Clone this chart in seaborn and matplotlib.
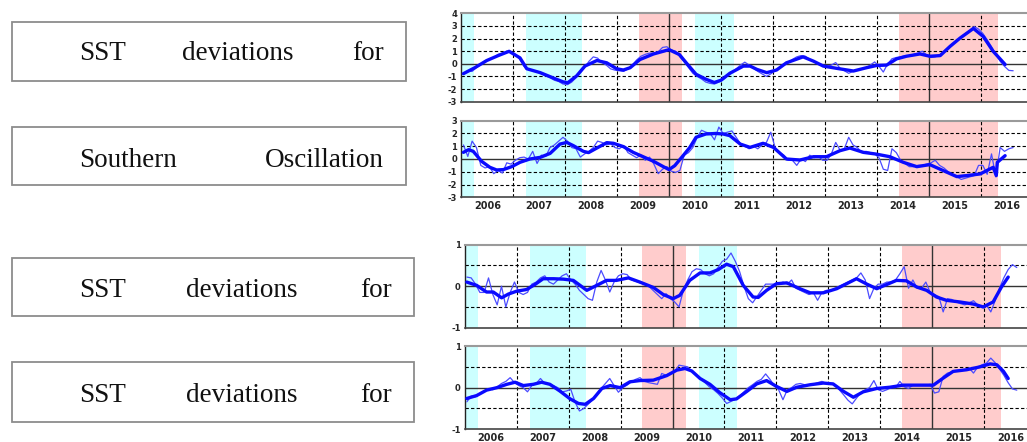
import numpy as np
import seaborn as sns
import matplotlib.pyplot as plt
from matplotlib.patches import Rectangle

# ---- data ----
# monthly values, Jan 2006 .. Aug 2016
sst_top_monthly = [
    -0.8, -0.55, -0.6, -0.3, -0.05, 0.25, 0.35, 0.5, 0.75, 0.85, 1.0, 0.9,
    0.75, 0.35, -0.2, -0.45, -0.55, -0.6, -0.8, -0.95, -1.1, -1.3, -1.4, -1.6,
    -1.65, -1.45, -1.1, -0.7, -0.3, 0.2, 0.55, 0.45, 0.1, -0.1, -0.4, -0.5,
    -0.55, -0.6, -0.4, -0.1, 0.3, 0.6, 0.75, 0.85, 0.85, 0.95, 1.3, 1.35,
    1.1, 1.0, 0.55, 0.15, -0.3, -0.75, -1.0, -1.2, -1.45, -1.55, -1.6, -1.45,
    -1.25, -0.95, -0.7, -0.4, -0.1, 0.13, -0.1, -0.35, -0.6, -0.8, -1.0, -0.8,
    -0.55, -0.35, -0.1, 0.1, 0.35, 0.55, 0.65, 0.6, 0.35, 0.2, 0.05, -0.1,
    -0.2, -0.1, 0.1, -0.35, -0.55, -0.75, -0.6, -0.5, -0.4, -0.3, -0.1, 0.15,
    -0.2, -0.65, 0.0, 0.4, 0.5, 0.55, 0.65, 0.6, 0.75, 0.85, 1.0, 0.7,
    0.5, 0.55, 0.7, 1.0, 1.3, 1.6, 1.85, 2.1, 2.4, 2.65, 2.95, 2.75,
    2.4, 1.9, 1.35, 0.75, 0.2, -0.2, -0.52, -0.55,
]
sst_top_smooth = [
    (2006.04, -0.78), (2006.26, -0.31), (2006.49, 0.26), (2006.71, 0.65), (2006.92, 0.99),
    (2007.13, 0.47), (2007.26, -0.39), (2007.52, -0.70), (2007.77, -1.12), (2007.96, -1.43),
    (2008.05, -1.5), (2008.22, -0.96), (2008.38, -0.18), (2008.61, 0.26), (2008.8, 0.08),
    (2008.99, -0.39), (2009.12, -0.49), (2009.25, -0.31), (2009.44, 0.34), (2009.70, 0.78),
    (2010.0, 1.12), (2010.2, 0.73), (2010.33, 0.08), (2010.52, -0.83), (2010.71, -1.22),
    (2010.87, -1.48), (2011.0, -1.3), (2011.17, -0.75), (2011.43, -0.18), (2011.56, -0.18),
    (2011.69, -0.44), (2011.88, -0.70), (2012.07, -0.49), (2012.26, 0.08), (2012.58, 0.55),
    (2012.78, 0.21), (2012.97, -0.18), (2013.23, -0.36), (2013.55, -0.57), (2013.8, -0.31),
    (2014.0, -0.13), (2014.19, -0.1), (2014.38, 0.39), (2014.57, 0.6), (2014.83, 0.78),
    (2015.02, 0.6), (2015.22, 0.65), (2015.41, 1.38), (2015.6, 2.03), (2015.86, 2.8),
    (2016.05, 2.16), (2016.24, 0.99), (2016.47, -0.05),
]

soi_monthly = [
    1.1, 0.2, 1.4, 0.9, -0.5, -0.7, -0.6, -1.15, -0.9, -1.1, -0.3, -0.4,
    -0.1, 0.1, 0.15, 0.0, 0.6, -0.35, 0.3, 0.2, 0.9, 1.1, 1.4, 1.7,
    1.4, 0.9, 0.8, 0.15, 0.4, 0.6, 0.9, 1.4, 1.3, 1.1, 1.2, 0.9,
    0.8, 1.05, 0.5, 0.3, 0.1, 0.3, -0.1, 0.15, -0.4, -1.15, -0.8, -0.6,
    -0.95, -1.05, -0.9, 0.3, 0.5, 0.9, 1.7, 2.25, 2.1, 2.0, 1.5, 2.5,
    2.0, 2.1, 2.2, 1.7, 1.2, 1.0, 0.8, 1.0, 0.8, 1.1, 1.3, 2.1,
    0.9, 0.5, 0.3, -0.1, -0.1, -0.5, 0.0, -0.2, 0.3, 0.1, 0.2, -0.1,
    -0.1, 0.4, 1.3, 0.7, 0.8, 1.7, 1.1, 0.9, 0.5, 0.6, 0.5, 0.4,
    0.1, -0.8, -0.9, 0.8, 0.5, -0.1, -0.35, -0.6, -0.6, -0.5, -0.5, -0.4,
    -0.3, -0.1, -0.5, -0.7, -1.0, -1.2, -1.4, -1.6, -1.5, -1.4, -1.3, -0.5,
    -0.5, -1.2, 0.4, -1.4, 0.9, 0.6, 0.8, 0.9,
]
soi_smooth = [
    (2006.04, 0.52), (2006.14, 0.73), (2006.23, 0.6), (2006.39, -0.18), (2006.55, -0.65),
    (2006.68, -0.86), (2006.81, -0.83), (2006.97, -0.6), (2007.13, -0.26), (2007.32, 0.0),
    (2007.52, 0.13), (2007.71, 0.44), (2007.9, 1.17), (2008.03, 1.3), (2008.16, 1.04),
    (2008.35, 0.6), (2008.45, 0.5), (2008.61, 0.86), (2008.8, 1.28), (2008.93, 1.23),
    (2009.12, 0.97), (2009.31, 0.52), (2009.5, 0.18), (2009.7, -0.18), (2009.89, -0.6),
    (2010.0, -0.83), (2010.11, -0.52), (2010.27, 0.26), (2010.4, 0.91), (2010.52, 1.7),
    (2010.71, 1.96), (2010.9, 2.0), (2011.04, 1.96), (2011.17, 1.83), (2011.37, 1.17),
    (2011.56, 0.91), (2011.81, 1.23), (2012.01, 0.91), (2012.26, 0.0), (2012.52, -0.08),
    (2012.78, 0.18), (2013.03, 0.18), (2013.29, 0.65), (2013.48, 0.86), (2013.74, 0.52),
    (2013.98, 0.39), (2014.25, 0.18), (2014.51, -0.26), (2014.77, -0.6), (2015.02, -0.44),
    (2015.28, -0.91), (2015.54, -1.38), (2015.73, -1.3), (2015.99, -1.17), (2016.12, -0.9),
    (2016.24, -0.65), (2016.3, -1.3), (2016.32, -0.26), (2016.47, 0.26),
]

sst_mid_monthly = [
    0.22, 0.2, 0.05, -0.15, -0.15, 0.2, -0.2, -0.45, 0.0, -0.5, -0.15, 0.1,
    -0.15, -0.2, -0.15, 0.05, 0.1, 0.2, 0.25, 0.1, 0.05, 0.15, 0.25, 0.3,
    0.15, 0.05, -0.1, -0.2, -0.3, -0.34, 0.1, 0.38, 0.15, -0.14, 0.1, 0.25,
    0.3, 0.28, 0.15, 0.12, 0.08, 0.05, 0.0, -0.1, -0.2, -0.3, -0.18, -0.3,
    -0.38, -0.5, -0.1, 0.15, 0.35, 0.42, 0.4, 0.3, 0.25, 0.3, 0.45, 0.6,
    0.65, 0.8, 0.6, 0.35, 0.0, -0.3, -0.4, -0.25, -0.1, 0.05, 0.05, 0.05,
    0.05, 0.1, 0.05, 0.15, -0.05, -0.1, -0.15, -0.2, -0.15, -0.34, -0.15, -0.1,
    -0.1, -0.05, 0.0, 0.05, 0.1, 0.15, 0.2, 0.32, 0.15, -0.3, -0.05, 0.05,
    0.05, 0.1, 0.1, 0.15, 0.3, 0.47, -0.05, 0.15, -0.05, -0.05, 0.1, -0.15,
    -0.2, -0.25, -0.62, -0.3, -0.32, -0.38, -0.42, -0.45, -0.4, -0.35, -0.45, -0.5,
    -0.45, -0.62, -0.35, -0.05, 0.2, 0.4, 0.52, 0.45,
]
sst_mid_smooth = [
    (2006.04, 0.10), (2006.23, 0.02), (2006.42, -0.14), (2006.55, -0.14), (2006.71, -0.28),
    (2006.84, -0.19), (2007.0, -0.12), (2007.19, -0.08), (2007.35, 0.04), (2007.51, 0.18),
    (2007.71, 0.18), (2007.9, 0.17), (2008.09, 0.14), (2008.22, 0.02), (2008.35, -0.1),
    (2008.51, 0.0), (2008.73, 0.14), (2008.92, 0.14), (2009.15, 0.2), (2009.37, 0.1),
    (2009.63, -0.03), (2009.82, -0.2), (2010.01, -0.3), (2010.14, -0.22), (2010.33, 0.14),
    (2010.53, 0.32), (2010.72, 0.32), (2010.88, 0.4), (2011.04, 0.53), (2011.17, 0.47),
    (2011.36, 0.02), (2011.55, -0.26), (2011.65, -0.27), (2011.81, -0.1), (2012.0, 0.06),
    (2012.2, 0.08), (2012.45, -0.06), (2012.65, -0.16), (2012.9, -0.16), (2013.16, -0.06),
    (2013.35, 0.06), (2013.54, 0.18), (2013.74, 0.05), (2013.93, -0.06), (2014.12, 0.04),
    (2014.31, 0.14), (2014.5, 0.13), (2014.7, -0.02), (2014.89, -0.1), (2015.08, -0.26),
    (2015.27, -0.34), (2015.53, -0.38), (2015.79, -0.43), (2015.98, -0.5), (2016.17, -0.38),
    (2016.33, -0.02), (2016.46, 0.22),
]

sst_low_monthly = [
    -0.34, -0.2, -0.22, -0.15, -0.08, -0.02, -0.05, 0.02, 0.1, 0.15, 0.24, 0.12,
    0.05, 0.0, -0.1, 0.05, 0.1, 0.22, 0.1, 0.08, 0.05, 0.0, -0.1, -0.08,
    -0.04, -0.35, -0.56, -0.5, -0.4, -0.3, -0.15, -0.02, 0.1, 0.22, 0.05, -0.11,
    0.0, 0.06, 0.14, 0.2, 0.24, 0.15, 0.12, 0.1, 0.08, 0.34, 0.3, 0.35,
    0.38, 0.54, 0.52, 0.5, 0.38, 0.3, 0.22, 0.12, 0.02, -0.05, -0.14, -0.25,
    -0.38, -0.33, -0.28, -0.2, -0.1, 0.0, 0.07, 0.15, 0.2, 0.33, 0.2, 0.05,
    -0.05, -0.29, -0.05, 0.0, 0.08, 0.1, 0.07, 0.07, 0.08, 0.12, 0.15, 0.1,
    0.1, 0.05, -0.05, -0.17, -0.3, -0.39, -0.25, -0.12, -0.05, 0.0, 0.17, -0.05,
    -0.09, -0.05, 0.0, 0.0, 0.15, 0.02, -0.02, 0.06, 0.07, 0.07, 0.06, 0.08,
    -0.13, -0.1, 0.27, 0.35, 0.37, 0.4, 0.41, 0.42, 0.47, 0.35, 0.5, 0.55,
    0.59, 0.71, 0.6, 0.45, 0.3, 0.12, -0.03, -0.06,
]
sst_low_smooth = [
    (2006.04, -0.26), (2006.23, -0.19), (2006.42, -0.06), (2006.62, 0.0), (2006.81, 0.08),
    (2006.97, 0.13), (2007.13, 0.05), (2007.32, 0.08), (2007.48, 0.13), (2007.64, 0.08),
    (2007.83, -0.08), (2008.03, -0.27), (2008.19, -0.38), (2008.32, -0.4), (2008.48, -0.26),
    (2008.64, -0.02), (2008.8, 0.05), (2008.99, 0.0), (2009.18, 0.14), (2009.37, 0.17),
    (2009.63, 0.18), (2009.89, 0.29), (2010.08, 0.42), (2010.24, 0.46), (2010.37, 0.4),
    (2010.53, 0.22), (2010.72, 0.08), (2010.91, -0.12), (2011.11, -0.29), (2011.23, -0.27),
    (2011.43, -0.09), (2011.62, 0.09), (2011.81, 0.17), (2012.0, 0.03), (2012.2, -0.09),
    (2012.39, 0.01), (2012.65, 0.07), (2012.9, 0.11), (2013.09, 0.09), (2013.29, -0.09),
    (2013.48, -0.23), (2013.67, -0.1), (2013.93, -0.02), (2014.18, 0.01), (2014.44, 0.06),
    (2014.7, 0.06), (2015.02, 0.06), (2015.21, 0.23), (2015.4, 0.39), (2015.66, 0.43),
    (2015.92, 0.5), (2016.11, 0.57), (2016.24, 0.55), (2016.37, 0.39), (2016.46, 0.22),
]

# shaded episodes (decimal years)
la_nina = [(2005.9, 2006.25), (2007.25, 2008.33), (2010.5, 2011.25)]
el_nino = [(2009.42, 2010.25), (2014.42, 2016.33)]

years = list(range(2006, 2017))
box_words = [
    ["SST", "deviations", "for"],
    ["Southern", "Oscillation"],
    ["SST", "deviations", "for"],
    ["SST", "deviations", "for"],
]

# ---- style ----
sns.set_style("white")
plt.rcParams['font.family'] = ['DejaVu Sans']
plt.rcParams['axes.unicode_minus'] = False

CYAN = "#ccffff"
PINK = "#ffcccc"
THICK = "#0a0aff"
THIN = "#4b4bff"

W, H = 1027, 442
fig = plt.figure(figsize=(W / 100, H / 100), dpi=100)

# left-hand label boxes, drawn in pixel coordinates
bg = fig.add_axes([0, 0, 1, 1], zorder=-1)
bg.set_xlim(0, W)
bg.set_ylim(H, 0)
bg.axis('off')
boxes = [(11.7, 21.7, 405.7, 81.0, 60.0, 383.3, 237.9),
         (11.7, 126.7, 405.7, 185.0, 166.7, 383.3, None),
         (11.7, 258.3, 414.3, 315.7, 296.7, 391.7, 242.2),
         (11.7, 362.3, 414.3, 421.7, 401.7, 391.7, 242.2)]
for words, (x0, y0, x1, y1, base, xr, xm) in zip(box_words, boxes):
    bg.add_patch(Rectangle((x0, y0), x1 - x0, y1 - y0, fill=False,
                           edgecolor="#8c8c8c", linewidth=1.3))
    kw = dict(fontsize=19.5, family='Liberation Serif', va='baseline', color='#111111')
    bg.text(79.3, base, words[0], ha='left', **kw)
    bg.text(xr, base, words[-1], ha='right', **kw)
    if xm is not None:
        bg.text(xm, base, words[1], ha='center', **kw)


def to_frac(left_px, top_px, bottom_px):
    return [left_px / W, 1 - bottom_px / H, 1 - left_px / W, (bottom_px - top_px) / H]


def draw_panel(rect, monthly, smooth, ylim, yticks, ygrid, xmax, show_years):
    ax = fig.add_axes(rect)
    for a, b in la_nina:
        ax.axvspan(a, b, color=CYAN, lw=0, zorder=0)
    for a, b in el_nino:
        ax.axvspan(a, b, color=PINK, lw=0, zorder=0)

    for yr in years[1:]:
        if yr in (2010, 2015):
            ax.axvline(yr, color='#333333', lw=1.0, zorder=1)
        else:
            ax.axvline(yr, color='black', lw=0.8, ls=(0, (3, 2)), zorder=1)
    for yv in ygrid:
        ax.axhline(yv, color='black', lw=0.8, ls=(0, (3, 2)), zorder=1)
    ax.axhline(0, color='#333333', lw=1.0, zorder=1)

    t_month = 2006 + (np.arange(len(monthly)) + 0.5) / 12
    sns.lineplot(x=t_month, y=monthly, ax=ax, color=THIN, lw=0.9,
                 estimator=None, sort=False, zorder=3)
    st, sv = zip(*smooth)
    sns.lineplot(x=list(st), y=list(sv), ax=ax, color=THICK, lw=2.4,
                 estimator=None, sort=False, zorder=4)

    ax.set_xlim(2006.0, xmax)
    ax.set_ylim(*ylim)
    ax.set_yticks(yticks)
    ax.set_yticklabels([str(v) for v in yticks], fontsize=6, fontweight='bold')
    if show_years:
        ax.set_xticks([y + 0.5 for y in years])
        ax.set_xticklabels([str(y) for y in years], fontsize=7, fontweight='bold')
    else:
        ax.set_xticks([])
    ax.tick_params(length=0, pad=3)
    ax.set_xlabel("")
    ax.set_ylabel("")
    ax.spines['right'].set_visible(False)
    ax.spines['top'].set_color('#9a9a9a')
    ax.spines['top'].set_linewidth(1.5)
    ax.spines['left'].set_color('#222222')
    ax.spines['left'].set_linewidth(1.0)
    ax.spines['bottom'].set_color('#444444')
    ax.spines['bottom'].set_linewidth(1.2)
    return ax


top_xmax = 2006 + (W - 461.3) / 51.94
low_xmax = 2006 + (W - 464.7) / 51.96

draw_panel(to_frac(461.3, 13.3, 101.7), sst_top_monthly, sst_top_smooth,
           (-3, 4), list(range(-3, 5)), [-2, -1, 1, 2, 3], top_xmax, False)
draw_panel(to_frac(461.3, 120.7, 197.3), soi_monthly, soi_smooth,
           (-3, 3), list(range(-3, 4)), [-2, -1, 1, 2], top_xmax, True)
draw_panel(to_frac(464.7, 244.7, 327.7), sst_mid_monthly, sst_mid_smooth,
           (-1, 1), [-1, 0, 1], [-0.5, 0.5], low_xmax, False)
draw_panel(to_frac(464.7, 346.0, 429.3), sst_low_monthly, sst_low_smooth,
           (-1, 1), [-1, 0, 1], [-0.5, 0.5], low_xmax, True)

fig.savefig("out.png", dpi=100)
plt.close(fig)
